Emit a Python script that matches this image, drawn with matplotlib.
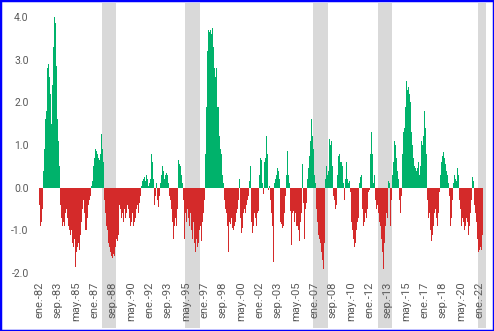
import numpy as np
import matplotlib
matplotlib.use("Agg")
import matplotlib.pyplot as plt
from matplotlib.patches import Rectangle

# monthly values, ene-82 .. abr-22
v_1982_1991 = [-0.4, -0.9, -1.35, -0.8, -0.5, 0.4, 0.9, 1.6, 1.8, 2.8, 2.9, 2.6,
               2.2, 1.5, 1.7, 2.4, 3.3, 4.0, 3.85, 2.85, 1.6, 1.1, 0.5, -0.4,
               -0.7, -0.9, -0.8, -1.2, -0.9, -0.6, -0.5, -0.7, -0.9, -1.0, -1.1, -1.0,
               -1.3, -1.4, -1.2, -1.6, -1.85, -1.5, -1.4, -1.3, -1.45, -1.1, -0.8, -0.5,
               -0.3, -0.6, -1.0, -1.2, -1.0, -0.7, -0.4, -0.3, -0.2, 0.05, 0.15, 0.5,
               0.7, 0.9, 0.85, 0.75, 0.8, 0.7, 0.65, 0.8, 1.25, 0.9, 0.6, -0.3,
               -0.6, -0.9, -1.0, -1.2, -1.3, -1.4, -1.5, -1.6, -1.65, -1.55, -1.6, -1.4,
               -1.2, -1.25, -1.1, -0.9, -0.4, -0.5, -0.7, -0.6, -0.8, -0.5, -0.7, -0.6,
               -0.4, -0.5, -0.7, -0.6, -0.9, -0.8, -0.6, -0.9, -0.8, -0.7, -0.5, -0.4,
               -0.6, -0.35, -0.2, -0.05, 0.05, 0.15, 0.2, 0.25, 0.15, 0.3, 0.2, 0.05]

v_1992_2001 = [0.1, 0.2, 0.8, 1.45, 0.6, 0.2, -0.4, -0.2, 0.1, -0.3, -0.45, -0.2,
               0.1, 0.3, 0.5, 0.55, 0.4, 0.2, 0.3, 0.35, 0.3, 0.1, -0.2, -0.3,
               -0.5, -0.8, -1.2, -1.25, -0.9, -0.7, -0.9, -0.5, 0.65, 0.55, 0.5, 0.3,
               0.1, -0.3, -1.2, -1.0, -0.6, -0.8, -0.5, -0.7, -0.9, -0.6, -1.0, -1.2,
               -0.8, -1.3, -1.5, -1.65, -1.2, -1.4, -1.3, -1.0, -0.9, -1.25, -0.8, -0.6,
               -0.3, 0.8, 1.9, 2.8, 3.2, 3.7, 3.65, 3.7, 3.6, 3.75, 3.3, 2.8,
               2.6, 2.8, 1.9, 1.85, 1.9, 1.2, 0.9, 0.8, 0.3, 0.1, -0.3, -0.5,
               -0.6, -0.9, -1.5, -0.9, -0.8, -0.85, -0.7, -0.95, -1.0, -0.9, -0.8, -0.6,
               -0.5, -0.3, 0.2, -0.5, -0.7, -1.05, -0.95, -0.6, -0.5, -0.6, -0.4, -0.3,
               -0.2, 0.15, 0.5, -0.5, -0.8, -1.05, -0.9, -0.6, -0.7, -0.9, -0.6, -0.55]

v_2002_2011 = [0.3, 0.7, 0.65, 0.7, 0.1, -0.15, 0.6, 0.7, 1.2, 0.8, -0.05, 0.05,
               -0.3, -0.6, -0.9, -1.75, -0.25, 0.1, 0.2, 0.3, 0.45, 0.4, 0.2, -0.8,
               -0.85, -0.95, -0.9, -0.6, -0.5, -0.2, 0.3, 0.85, 0.3, 0.1, -0.55, -1.35,
               -0.6, -0.55, -0.8, -0.6, -0.7, -0.9, -0.9, -1.0, -1.25, -0.8, -0.6, 0.55,
               -0.35, -1.2, -0.5, -0.35, -0.2, 0.2, 0.45, 0.75, 1.1, 1.6, 1.2, 0.9,
               0.3, 0.1, -0.5, -0.8, -1.0, -1.1, -1.2, -1.3, -1.5, -1.7, -1.9, -1.3,
               0.2, 0.5, 0.3, 0.4, 0.8, 1.15, 1.0, 1.1, 0.5, -0.2, -0.3, -0.5,
               -0.4, 0.3, 0.75, 0.8, 0.95, 0.6, 0.6, 0.5, 0.1, -0.3, 0.2, 0.6,
               0.2, 0.1, 0.15, -0.1, -0.4, -0.8, -1.0, -1.2, -1.4, -1.3, -1.0, -0.8,
               -0.7, 0.1, 0.25, 0.3, 0.1, -0.5, -0.9, -0.8, -0.6, -0.7, -0.5, -0.1]

v_2012_2022 = [-0.05, 0.8, 1.3, 0.8, 0.3, 0.1, 0.3, -0.3, -0.5, -0.4, -0.6, -0.8,
               -0.9, -1.2, -1.5, -1.9, -1.6, -1.3, -0.9, -0.6, -0.7, 0.15, 0.1, -0.9,
               -0.3, 0.3, 0.6, 1.1, 1.35, 1.0, 0.7, 0.4, 0.2, -0.3, -0.6, -0.2,
               0.8, 1.3, 1.4, 1.9, 2.2, 2.5, 2.3, 2.35, 2.2, 2.0, 1.3, 1.0,
               0.7, 0.5, 0.45, 0.4, 0.5, 0.45, 0.6, 0.3, 0.5, 1.1, 1.0, 1.2,
               1.8, 1.4, 0.8, -0.3, -0.5, -0.7, -0.6, -1.0, -1.25, -1.1, -0.9, -0.6,
               -0.5, -0.7, -0.9, -0.6, -0.4, -0.1, 0.3, 0.6, 0.75, 0.83, 0.7, 0.55,
               0.4, 0.3, 0.1, -0.2, -0.5, -0.9, -0.7, -0.3, 0.1, 0.3, 0.2, 0.15,
               0.45, 0.3, -0.3, -0.5, -0.8, -0.9, -0.7, -0.8, -1.0, -0.9, -0.7, -0.8,
               -1.1, -0.9, -0.6, -0.3, 0.2, 0.25, 0.15, -0.4, -0.6, -0.8, -1.2, -1.5,
               -1.45, -1.4, -1.45, -1.1]

# shaded periods (month index from ene-82)
band_start = [68, 159, 299, 369, 478]
band_end = [84, 175, 315, 385, 487]

tick_labels = ["ene.-82", "sep.-83", "may.-85", "ene.-87", "sep.-88", "may.-90",
               "ene.-92", "sep.-93", "may.-95", "ene.-97", "sep.-98", "may.-00",
               "ene.-02", "sep.-03", "may.-05", "ene.-07", "sep.-08", "may.-10",
               "ene.-12", "sep.-13", "may.-15", "ene.-17", "sep.-18", "may.-20",
               "ene.-22"]
ytick_vals = [-2.0, -1.0, 0.0, 1.0, 2.0, 3.0, 4.0]

values = np.array(v_1982_1991 + v_1992_2001 + v_2002_2011 + v_2012_2022)
months = np.arange(len(values))

green = "#00B26B"
red = "#D42A2A"
band_color = "#D9D9D9"
text_color = "#595959"

fig = plt.figure(figsize=(4.94, 3.31), dpi=100)
ax = fig.add_axes([0.0749, 0.1622, 0.9858 - 0.0749, 0.968 - 0.1622])

for s, e in zip(band_start, band_end):
    ax.axvspan(s, e, ymin=-0.19, ymax=1.03, color=band_color, lw=0,
               zorder=0, clip_on=False)

colors = np.where(values >= 0, green, red)
ax.bar(months, values, width=1.0, color=colors, linewidth=0, zorder=2)

ax.set_xlim(-2.4, 488.3)
ax.set_ylim(-2.1, 4.15)

ax.set_xticks(np.arange(0, len(tick_labels) * 20, 20))
ax.set_xticklabels(tick_labels, rotation=90, fontsize=8, color=text_color,
                   family="Roboto")
ax.set_yticks(ytick_vals)
ax.set_yticklabels([f"{v:.1f}" for v in ytick_vals], fontsize=7.5,
                   color=text_color, family="Roboto")
ax.tick_params(axis="both", length=0)
ax.tick_params(axis="y", pad=6)
ax.tick_params(axis="x", pad=3)

for sp in ax.spines.values():
    sp.set_visible(False)
ax.patch.set_alpha(0)

fig.patches.append(Rectangle((0, 0), 1, 1, transform=fig.transFigure, fill=False,
                             edgecolor="#0000FF", linewidth=2.5, zorder=10))

plt.savefig("out.png", dpi=100)
